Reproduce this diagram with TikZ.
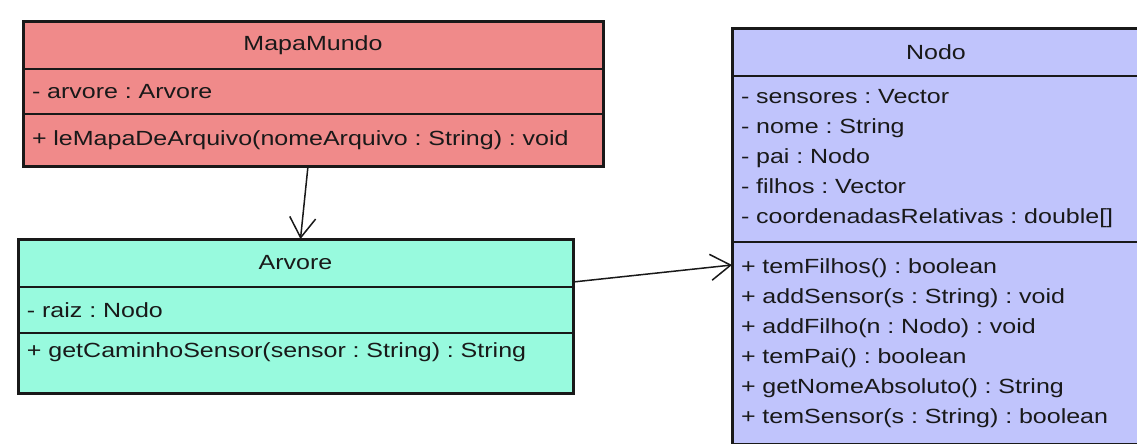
\documentclass[tikz,border=0pt]{standalone}
\usepackage{fontspec}
\setmainfont{Liberation Sans}[FakeStretch=1.22]
\frenchspacing
\usetikzlibrary{arrows.meta, positioning}

\definecolor{mapacolor}{RGB}{240,138,138}
\definecolor{arvorecolor}{RGB}{152,250,222}
\definecolor{nodocolor}{RGB}{192,196,252}
\definecolor{inkcolor}{RGB}{25,25,25}

\begin{document}
\begin{tikzpicture}[
        x=1pt, y=-1pt,
        every node/.style={font=\fontsize{20.5}{30}\selectfont, text=inkcolor},
        part/.style={rectangle, draw=inkcolor, line width=1.5pt, inner xsep=9pt, inner ysep=0pt, outer sep=0pt},
        title/.style={part, align=center},
        members/.style={part, align=left},
        frame/.style={draw=inkcolor, line width=3pt},
        assoc/.style={-{Straight Barb[length=20pt, width=26pt]}, line width=1.5pt, draw=inkcolor}
    ]
        \clip (0,0) rectangle (1137,444);
        \fill[white] (0,0) rectangle (1137,444);

        % MapaMundo
        \node[title, fill=mapacolor, minimum width=580pt, minimum height=47pt, anchor=north west] (mapa) at (23,22) {MapaMundo};
        \node[members, fill=mapacolor, text width=562pt, minimum height=45pt, below=0pt of mapa] (mapa-attr) {- arvore : Arvore};
        \node[members, fill=mapacolor, text width=562pt, minimum height=52pt, below=0pt of mapa-attr] (mapa-ops) {+ leMapaDeArquivo(nomeArquivo : String) : void};
        \draw[frame] (mapa.north west) rectangle (mapa-ops.south east);

        % Arvore
        \node[title, fill=arvorecolor, minimum width=555pt, minimum height=48pt, anchor=north west] (arvore) at (18,239) {Arvore};
        \node[members, fill=arvorecolor, text width=537pt, minimum height=46pt, below=0pt of arvore] (arvore-attr) {- raiz : Nodo};
        \node[members, fill=arvorecolor, text width=537pt, minimum height=60pt, text depth=26pt, below=0pt of arvore-attr] (arvore-ops) {+ getCaminhoSensor(sensor : String) : String};
        \draw[frame] (arvore.north west) rectangle (arvore-ops.south east);

        % Nodo
        \node[title, fill=nodocolor, minimum width=408pt, minimum height=47pt, anchor=north west] (nodo) at (732,29) {Nodo};
        \node[members, fill=nodocolor, text width=390pt, minimum height=166pt, below=0pt of nodo] (nodo-attr) {- sensores : Vector\\- nome : String\\- pai : Nodo\\- filhos : Vector\\- coordenadasRelativas : double[]};
        \node[members, fill=nodocolor, text width=390pt, minimum height=202pt, below=0pt of nodo-attr] (nodo-ops) {+ temFilhos() : boolean\\+ addSensor(s : String) : void\\+ addFilho(n : Nodo) : void\\+ temPai() : boolean\\+ getNomeAbsoluto() : String\\+ temSensor(s : String) : boolean};
        \draw[frame] (nodo.north west) rectangle (nodo-ops.south east);

        % associations
        \draw[assoc] ([xshift=-5pt]mapa-ops.south) -- ([xshift=5pt]arvore.north);
        \draw[assoc] ([yshift=-19pt]arvore.east) -- ([yshift=-23pt]nodo-ops.north west);
    \end{tikzpicture}
\end{document}
